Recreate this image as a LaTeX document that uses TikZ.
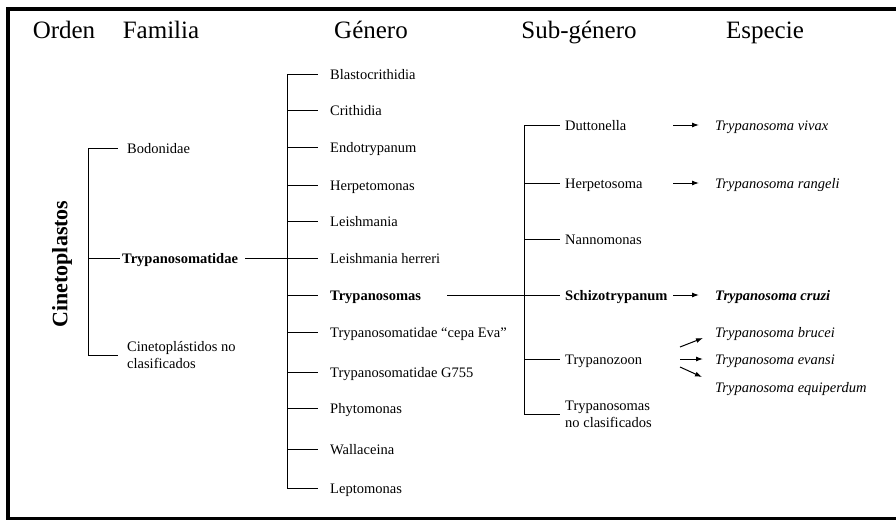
\documentclass[tikz,border=0pt]{standalone}
\usepackage{fontspec}
\setmainfont{Liberation Serif}
\usetikzlibrary{arrows.meta}
\newcommand{\taxsize}{\fontsize{14.5}{17}\selectfont}
\newcommand{\headsize}{\fontsize{25}{29}\selectfont}
\tikzset{
    header/.style={anchor=base, font=\headsize},
    taxon/.style={anchor=west, inner sep=0pt, text height=12pt, text depth=2pt, font=\taxsize},
    taxmulti/.style={anchor=west, inner sep=0pt, align=left, font=\taxsize},
    species/.style={taxon, font=\taxsize\itshape},
    branch/.style={line width=1pt},
    arr/.style={line width=1pt, -{Latex[length=7pt,width=5pt]}}
}

\begin{document}
\begin{tikzpicture}[x=1pt, y=-1pt]
    \useasboundingbox (0,0) rectangle (896,519);
    % frame
    \draw[line width=4pt] (900,9) -- (8,9) -- (8,518.5) -- (900,518.5);

    % headings
    \path
        node[header] (horden) at (64,39) {Orden}
        node[header] (hfam) at (161,39) {Familia}
        node[header] (hgen) at (371,39) {Género}
        node[header] (hsub) at (579,39) {Sub-género}
        node[header] (hesp) at (765,39) {Especie};

    % orden
    \node[rotate=90, font=\fontsize{22}{26}\selectfont\bfseries] (orden) at (62,264) {Cinetoplastos};

    % familia
    \coordinate (famspine) at (88,0);
    \node[taxon] (bodo) at (127,148) {Bodonidae};
    \node[taxon, font=\taxsize\bfseries] (trypfam) at (122,258) {Trypanosomatidae};
    \node[taxmulti] (cineno) at (127,355) {Cinetoplástidos no\\clasificados};
    \draw[branch] (bodo.west -| famspine) -- (cineno.west -| famspine);
    \draw[branch, shorten >=9pt] (bodo.west -| famspine) -- (bodo.west);
    \draw[branch, shorten >=2pt] (trypfam.west -| famspine) -- (trypfam.west);
    \draw[branch, shorten >=9pt] (cineno.west -| famspine) -- (cineno.west);

    % genero
    \coordinate (genspine) at (287,0);
    \foreach \nm/\y/\txt in {blasto/74/Blastocrithidia, crith/110/Crithidia, endo/147/Endotrypanum,
            herpmon/185/Herpetomonas, leish/221/Leishmania, leishh/258/Leishmania herreri,
            tryps/295/\textbf{Trypanosomas}, cepa/332/Trypanosomatidae “cepa Eva”,
            g755/372/Trypanosomatidae G755, phyto/408/Phytomonas, walla/449/Wallaceina, lepto/488/Leptomonas}
    {
        \node[taxon] (\nm) at (330,\y) {\txt};
        \draw[branch, shorten >=12pt] (\nm.west -| genspine) -- (\nm.west);
    }
    \draw[branch] (blasto.west -| genspine) -- (lepto.west -| genspine);
    \draw[branch, shorten <=7pt] (trypfam.east) -- (trypfam.east -| genspine);

    % subgenero
    \coordinate (subspine) at (524,0);
    \foreach \nm/\y/\txt in {dutt/125/Duttonella, herpso/183/Herpetosoma, nanno/239/Nannomonas,
            schizo/295/\textbf{Schizotrypanum}, trypz/359/Trypanozoon}
    {
        \node[taxon] (\nm) at (565,\y) {\txt};
        \draw[branch, shorten >=5pt] (\nm.west -| subspine) -- (\nm.west);
    }
    \node[taxmulti] (trypnc) at (565,414) {Trypanosomas\\no clasificados};
    \draw[branch, shorten >=5pt] (trypnc.west -| subspine) -- (trypnc.west);
    \draw[branch] (dutt.west -| subspine) -- (trypnc.west -| subspine);
    \draw[branch, shorten <=26pt, shorten >=5pt] (tryps.east) -- (schizo.west);

    % especie
    \coordinate (arrx) at (673,0);
    \coordinate (forkx) at (680,0);
    \foreach \nm/\y/\txt in {vivax/125/Trypanosoma vivax, rangeli/183/Trypanosoma rangeli,
            cruzi/295/\textbf{Trypanosoma cruzi}, brucei/332/Trypanosoma brucei,
            evansi/359/Trypanosoma evansi, equip/387/Trypanosoma equiperdum}
        \node[species] (\nm) at (715,\y) {\txt};
    \draw[arr, shorten >=16pt] (dutt.east -| arrx) -- (vivax.west);
    \draw[arr, shorten >=16pt] (herpso.east -| arrx) -- (rangeli.west);
    \draw[arr, shorten >=16pt] (schizo.east -| arrx) -- (cruzi.west);
    \draw[arr] ([yshift=12pt]trypz.east -| forkx) -- ([xshift=-12pt,yshift=-6pt]brucei.west);
    \draw[arr, shorten >=12pt] (trypz.east -| forkx) -- (evansi.west);
    \draw[arr] ([yshift=-8pt]trypz.east -| forkx) -- ([xshift=-13pt,yshift=10pt]equip.west);
\end{tikzpicture}
\end{document}
